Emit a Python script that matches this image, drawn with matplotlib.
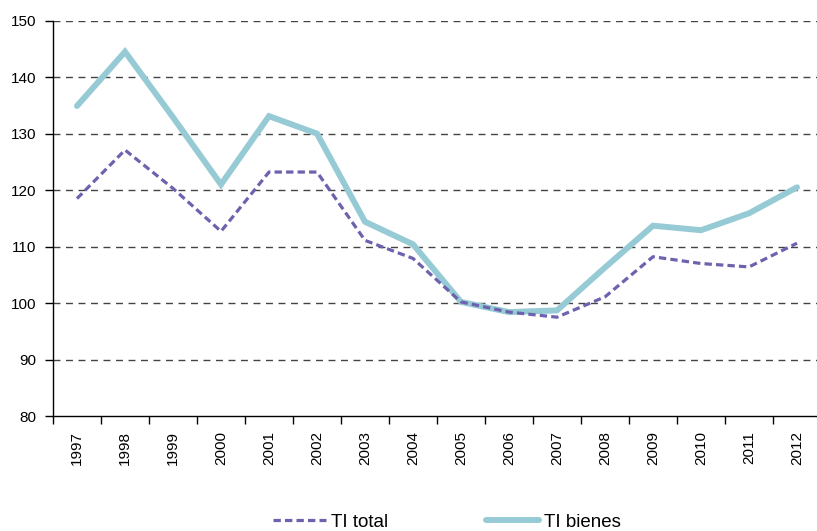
import numpy as np
import matplotlib
matplotlib.use('Agg')
import matplotlib.pyplot as plt

plt.rcParams['font.family'] = ['Liberation Sans', 'DejaVu Sans']

years = ['1997', '1998', '1999', '2000', '2001', '2002', '2003', '2004',
         '2005', '2006', '2007', '2008', '2009', '2010', '2011', '2012']
ti_total = [118.5, 127.1, 120.3, 112.7, 123.2, 123.2, 111.1, 107.9,
            100.2, 98.4, 97.5, 101.1, 108.2, 107.0, 106.4, 110.6]
ti_bienes = [134.9, 144.5, 132.9, 121.0, 133.1, 130.0, 114.4, 110.4,
             100.2, 98.4, 98.7, 106.3, 113.7, 112.9, 115.9, 120.5]

c_total = '#6c62ae'
c_bienes = '#96cbd5'

fig = plt.figure(figsize=(8.17, 5.31), dpi=100)
ax = fig.add_axes([53 / 817, 1 - 416 / 531, (821 - 53) / 817, (416 - 20.7) / 531])

x = np.arange(len(years))
ax.plot(x, ti_bienes, color=c_bienes, linewidth=4.3, solid_capstyle='round',
        solid_joinstyle='miter', label='TI bienes', zorder=3)
ax.plot(x, ti_total, color=c_total, linewidth=2.3, linestyle=(0, (2.3, 1.3)),
        label='TI total', zorder=4)

ax.set_ylim(80, 150)
ax.set_xlim(-0.5, len(years) - 0.5)
ax.set_yticks(np.arange(80, 151, 10))
for yv in np.arange(90, 151, 10):
    ax.axhline(yv, color='#444444', linewidth=1.0, linestyle=(0, (5, 4)), zorder=1)

ax.set_xticks(x)
ax.set_xticklabels(years, rotation=90)
ax.set_xticks(np.arange(-0.5, len(years)), minor=True)
ax.tick_params(axis='x', which='major', length=0, pad=11, labelsize=11)
ax.tick_params(axis='x', which='minor', length=6, width=1.0, direction='out')
ax.tick_params(axis='y', length=6, width=1.0, pad=6, labelsize=11)

for s in ['top', 'right']:
    ax.spines[s].set_visible(False)
ax.spines['left'].set_linewidth(1.0)
ax.spines['bottom'].set_linewidth(1.0)

h = ax.get_legend_handles_labels()[0]
fig.legend([h[1], h[0]], ['TI total', 'TI bienes'], loc='center',
           bbox_to_anchor=(447 / 817, 1 - 522 / 531), ncol=2, frameon=False,
           fontsize=13.5, handlelength=2.85, handletextpad=0.27, columnspacing=5.2,
           borderaxespad=0, borderpad=0)

fig.savefig('out.png', dpi=100)
